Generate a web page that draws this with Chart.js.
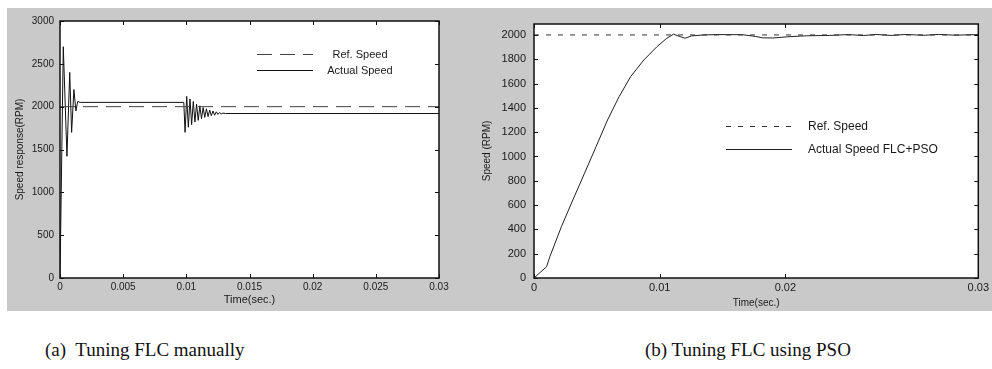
<!DOCTYPE html>
<html>
<head>
<meta charset="utf-8">
<script src="https://cdn.jsdelivr.net/npm/chart.js@4.4.1/dist/chart.umd.min.js"></script>
<style>
  html, body { margin: 0; padding: 0; background: #fff; }
  #page  { position: relative; width: 992px; height: 369px; overflow: hidden; }
  #panel { position: absolute; left: 7px; top: 8px; width: 985px; height: 303px; background: #c9c9c9; }
  canvas { position: absolute; top: 8px; }
  #chart-a { left: 7px; }
  #chart-b { left: 470px; }
  .caption { position: absolute; top: 339px; font-family: "Liberation Serif", serif; font-size: 19px;
             line-height: 22px; color: #111; white-space: pre; }
</style>
</head>
<body>
<div id="page">
  <div id="panel"></div>
  <canvas id="chart-a" width="480" height="303"></canvas>
  <canvas id="chart-b" width="522" height="303"></canvas>
  <div class="caption" style="left:45px">(a)  Tuning FLC manually</div>
  <div class="caption" style="left:645px">(b) Tuning FLC using PSO</div>
</div>
<script>
// ---- (a) FLC tuned manually ----
const timeA   = [0, 0.00026, 0.00055, 0.00077, 0.00092, 0.0011, 0.00126, 0.0014, 0.0016, 0.0098,
                 0.0099, 0.01003, 0.01016, 0.01029, 0.01042, 0.01055, 0.01068, 0.01081, 0.01094, 0.01107,
                 0.0112, 0.01133, 0.01146, 0.01159, 0.01172, 0.01185, 0.01198, 0.01211, 0.01224, 0.01237,
                 0.0125, 0.01263, 0.01276, 0.0129, 0.0131, 0.03];
const actualA = [0, 2700, 1420, 2400, 1700, 2200, 1950, 2060, 2050, 2050,
                 1700, 2120, 1760, 2090, 1790, 2060, 1820, 2030, 1840, 2010,
                 1860, 1990, 1875, 1975, 1885, 1960, 1895, 1950, 1900, 1940,
                 1910, 1932, 1915, 1925, 1920, 1920];
const refTimeA   = [0, 0.03];
const refA       = [2000, 2000];
const xTicksA    = [0, 0.005, 0.01, 0.015, 0.02, 0.025, 0.03];
const xLabelsA   = ['0', '0.005', '0.01', '0.015', '0.02', '0.025', '0.03'];
const yTicksA    = [0, 500, 1000, 1500, 2000, 2500, 3000];

// ---- (b) FLC tuned with PSO ----
const timeB   = [0, 0.001, 0.00126, 0.00218, 0.00309, 0.00402, 0.00494, 0.00585, 0.00677, 0.00769,
                 0.00874, 0.00979, 0.01057, 0.0111, 0.01163, 0.01202, 0.01254, 0.0135, 0.0146, 0.0166,
                 0.0176, 0.0182, 0.019, 0.0202, 0.0217, 0.0235, 0.025, 0.0262, 0.0272, 0.0284,
                 0.0296, 0.031, 0.0322, 0.0335, 0.03535];
const actualB = [0, 93, 175, 422, 642, 862, 1081, 1300, 1492, 1657,
                 1794, 1904, 1973, 2006, 1986, 1973, 1992, 2000, 2003, 2002,
                 1988, 1976, 1975, 1985, 1993, 1996, 2003, 1995, 2004, 1996,
                 2004, 1997, 2004, 1998, 2003];
const refTimeB = [0, 0.03535];
const refB     = [2000, 2000];
const xTicksB  = [0, 0.01, 0.02, 0.03535];
const xLabelsB = ['0', '0.01', '0.02', '0.03'];
const yTicksB  = [0, 200, 400, 600, 800, 1000, 1200, 1400, 1600, 1800, 2000];

const TXT = '#1a1a1a';
const SANS = 'Liberation Sans';

const pts = (xs, ys) => xs.map((x, i) => ({ x, y: ys[i] }));

// white plot area, then a full frame with inward ticks on all four sides
const plotFrame = {
  id: 'plotFrame',
  beforeDraw(chart) {
    const { ctx, chartArea: a } = chart;
    ctx.save();
    ctx.fillStyle = '#fff';
    ctx.fillRect(a.left, a.top, a.width, a.height);
    ctx.restore();
  },
  afterDatasetsDraw(chart) {
    const { ctx, chartArea: a, scales: { x, y } } = chart;
    ctx.save();
    ctx.strokeStyle = '#111';
    ctx.lineWidth = 1;
    ctx.beginPath();
    x.ticks.forEach((t, i) => {
      const px = Math.round(x.getPixelForTick(i)) + 0.5;
      ctx.moveTo(px, a.bottom); ctx.lineTo(px, a.bottom - 4);
      ctx.moveTo(px, a.top);    ctx.lineTo(px, a.top + 4);
    });
    y.ticks.forEach((t, i) => {
      const py = Math.round(y.getPixelForTick(i)) + 0.5;
      ctx.moveTo(a.left, py);  ctx.lineTo(a.left + 4, py);
      ctx.moveTo(a.right, py); ctx.lineTo(a.right - 4, py);
    });
    ctx.stroke();
    ctx.lineWidth = 1.5;
    ctx.strokeRect(a.left, a.top, a.width, a.height);
    ctx.restore();
  }
};

// legend drawn inside the plot, like the MATLAB figure
const innerLegend = {
  id: 'innerLegend',
  afterDraw(chart, args, o) {
    const { ctx, chartArea: a } = chart;
    ctx.save();
    ctx.font = o.font;
    ctx.fillStyle = TXT;
    ctx.textBaseline = 'middle';
    ctx.textAlign = o.align;
    chart.data.datasets.forEach((ds, i) => {
      const yy = Math.round(a.top + o.top + i * o.rowGap) + 0.5;
      ctx.strokeStyle = ds.borderColor;
      ctx.lineWidth = 1;
      ctx.setLineDash(ds.borderDash || []);
      ctx.beginPath();
      ctx.moveTo(a.left + o.left, yy);
      ctx.lineTo(a.left + o.left + o.sample, yy);
      ctx.stroke();
      ctx.setLineDash([]);
      ctx.fillText(ds.label, a.left + o.textX, yy);
    });
    ctx.restore();
  }
};

function axis(cfg) {
  return {
    type: 'linear',
    min: cfg.min, max: cfg.max,
    afterBuildTicks: s => { s.ticks = cfg.ticks.map(v => ({ value: v })); },
    afterFit: s => { if (s.isHorizontal()) s.height = cfg.size; else s.width = cfg.size; },
    grid: { display: false, drawTicks: false },
    border: { display: false },
    ticks: {
      autoSkip: false, maxRotation: 0, color: TXT, padding: cfg.pad,
      font: { family: SANS, size: cfg.fs },
      callback: (v, i) => cfg.labels ? cfg.labels[i] : String(v)
    },
    title: { display: true, text: cfg.title, color: TXT, padding: cfg.tpad,
             font: { family: SANS, size: cfg.tfs } }
  };
}

new Chart(document.getElementById('chart-a'), {
  type: 'line',
  data: {
    datasets: [
      { label: 'Ref. Speed', data: pts(refTimeA, refA), borderColor: '#444', borderWidth: 1,
        borderDash: [15, 8], pointRadius: 0 },
      { label: 'Actual Speed', data: pts(timeA, actualA), borderColor: '#111', borderWidth: 1,
        pointRadius: 0 }
    ]
  },
  options: {
    responsive: false, animation: false, devicePixelRatio: 1,
    layout: { padding: { top: 13, right: 48, left: 0, bottom: 0 } },
    plugins: {
      legend: { display: false }, tooltip: { enabled: false },
      innerLegend: { font: '11px ' + SANS, align: 'center', left: 197, sample: 56, textX: 300, top: 33, rowGap: 16 }
    },
    scales: {
      x: axis({ min: 0, max: 0.03, ticks: xTicksA, labels: xLabelsA, size: 33, pad: 3, fs: 10,
                title: 'Time(sec.)', tfs: 11, tpad: { top: 0, bottom: 4 } }),
      y: axis({ min: 0, max: 3000, ticks: yTicksA, size: 53, pad: 6, fs: 10,
                title: 'Speed response(RPM)', tfs: 10, tpad: { top: 7, bottom: 0 } })
    }
  },
  plugins: [plotFrame, innerLegend]
});

new Chart(document.getElementById('chart-b'), {
  type: 'line',
  data: {
    datasets: [
      { label: 'Ref. Speed', data: pts(refTimeB, refB), borderColor: '#333', borderWidth: 1,
        borderDash: [5, 7], pointRadius: 0 },
      { label: 'Actual Speed FLC+PSO', data: pts(timeB, actualB), borderColor: '#222', borderWidth: 1,
        pointRadius: 0 }
    ]
  },
  options: {
    responsive: false, animation: false, devicePixelRatio: 1,
    layout: { padding: { top: 16, right: 9, left: 0, bottom: 0 } },
    plugins: {
      legend: { display: false }, tooltip: { enabled: false },
      innerLegend: { font: '12px ' + SANS, align: 'left', left: 192, sample: 66, textX: 274, top: 102, rowGap: 23 }
    },
    scales: {
      x: axis({ min: 0, max: 0.03535, ticks: xTicksB, labels: xLabelsB, size: 33, pad: 3, fs: 11,
                title: 'Time(sec.)', tfs: 10, tpad: { top: 0, bottom: 2 } }),
      y: axis({ min: 0, max: 2090, ticks: yTicksB, size: 64, pad: 8, fs: 11,
                title: 'Speed (RPM)', tfs: 10, tpad: { top: 11, bottom: 0 } })
    }
  },
  plugins: [plotFrame, innerLegend]
});
</script>
</body>
</html>
